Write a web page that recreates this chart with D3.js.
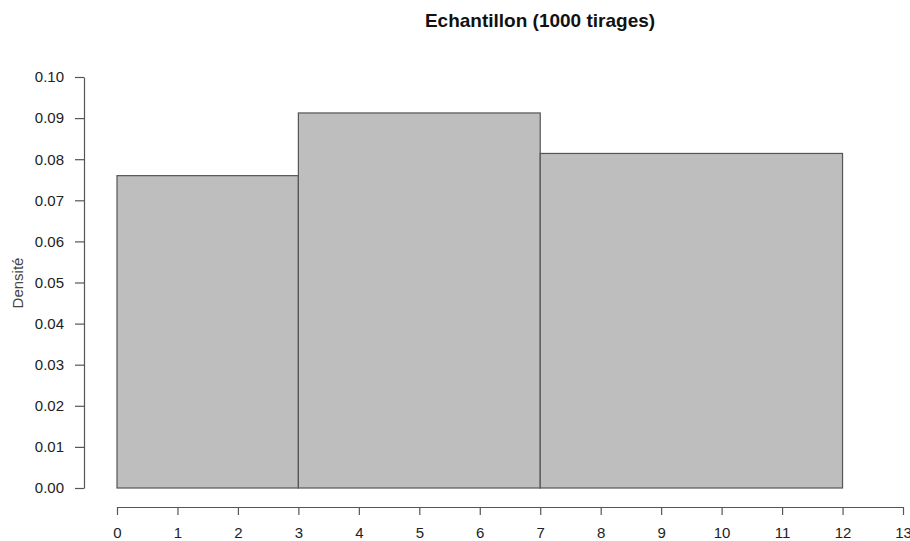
<!DOCTYPE html>
<html><head><meta charset="utf-8">
<script src="https://cdn.jsdelivr.net/npm/d3@7"></script>
<style>body{margin:0;background:#fff}svg{display:block}text{font-family:"Liberation Sans",Arial,sans-serif}</style>
</head><body>
<svg id="c" width="910" height="541"></svg>
<script>
const binStarts = [0, 3, 7];
const binEnds = [3, 7, 12];
const densities = [0.076, 0.09125, 0.0814];
const xTicks = [0,1,2,3,4,5,6,7,8,9,10,11,12,13];
const yTicks = [0,0.01,0.02,0.03,0.04,0.05,0.06,0.07,0.08,0.09,0.10];
const title = "Echantillon (1000 tirages)";
const yLabel = "Densité";

const svg = d3.select("#c");
const x = d3.scaleLinear().domain([0,13]).range([117,903]);
const y = d3.scaleLinear().domain([0,0.10]).range([488,77]);

svg.append("g").selectAll("rect").data(densities).join("rect")
  .attr("x",(d,i)=>x(binStarts[i])).attr("y",d=>y(d))
  .attr("width",(d,i)=>x(binEnds[i])-x(binStarts[i]))
  .attr("height",d=>y(0)-y(d))
  .attr("fill","#bebebe").attr("stroke","#555").attr("stroke-width",1.2);

const xa = svg.append("g").attr("transform","translate(0,507)")
  .call(d3.axisBottom(x).tickValues(xTicks).tickFormat(d3.format("d")).tickSize(8).tickPadding(12).tickSizeOuter(0));
const ya = svg.append("g").attr("transform","translate(84,0)")
  .call(d3.axisLeft(y).tickValues(yTicks).tickFormat(d3.format(".2f")).tickSize(9).tickPadding(11).tickSizeOuter(0));
[xa,ya].forEach(a=>{
  a.attr("font-size",15).attr("font-family","Liberation Sans, Arial, sans-serif");
  a.select(".domain").attr("stroke","#555").attr("stroke-width",1.2);
  a.selectAll(".tick line").attr("stroke","#555").attr("stroke-width",1.2);
  a.selectAll(".tick text").attr("fill","#222");
});

svg.append("text").attr("x",540).attr("y",27).attr("text-anchor","middle")
  .attr("font-size",19).attr("font-weight","bold").attr("fill","#111").text(title);
svg.append("text").attr("transform","translate(23,283) rotate(-90)").attr("text-anchor","middle")
  .attr("font-size",15).attr("fill","#444").text(yLabel);
</script>
</body></html>
